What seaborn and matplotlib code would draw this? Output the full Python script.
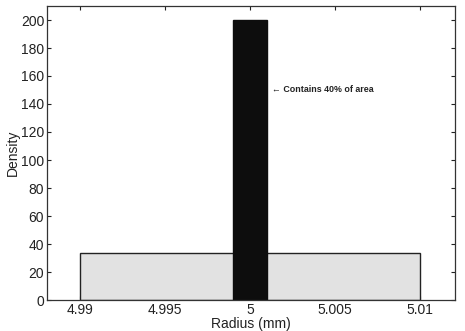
import matplotlib
matplotlib.use("Agg")
import matplotlib.pyplot as plt
import seaborn as sns
import pandas as pd

# Data
bin_edges_wide = [4.99, 5.01]
density_wide = [33.33]
bin_edges_narrow = [4.999, 5.001]
density_narrow = [200.0]
x_ticks = [4.99, 4.995, 5.0, 5.005, 5.01]
x_tick_labels = ["4.99", "4.995", "5", "5.005", "5.01"]
y_ticks = [0, 20, 40, 60, 80, 100, 120, 140, 160, 180, 200]
annotation_text = "\u2190 Contains 40% of area"

sns.set_theme(style="ticks")
plt.rcParams['font.family'] = ['Liberation Sans', 'DejaVu Sans']

fig = plt.figure(figsize=(4.65, 3.31), dpi=100)
ax = fig.add_axes([47/465, 31/331, (455-47)/465, (300-6)/331])

wide = pd.DataFrame({"x": [sum(bin_edges_wide)/2], "w": density_wide})
narrow = pd.DataFrame({"x": [sum(bin_edges_narrow)/2], "w": density_narrow})

sns.histplot(data=wide, x="x", weights="w", bins=bin_edges_wide, stat="count",
             color="#e2e2e2", alpha=1, edgecolor="#222222", linewidth=1.0, ax=ax)
sns.histplot(data=narrow, x="x", weights="w", bins=bin_edges_narrow, stat="count",
             color="#0d0d0d", alpha=1, edgecolor="#0d0d0d", linewidth=1.0, ax=ax)

ax.set_xlim(4.98806, 5.01206)
ax.set_ylim(0, 210)
ax.set_xticks(x_ticks)
ax.set_xticklabels(x_tick_labels)
ax.set_yticks(y_ticks)
ax.tick_params(direction="in", length=3, width=0.8, labelsize=10, colors="#222222",
               top=True, right=True, pad=2)
ax.set_xlabel("Radius (mm)", fontsize=10, labelpad=0, color="#222222")
ax.set_ylabel("Density", fontsize=10, labelpad=1, color="#222222")
for s in ax.spines.values():
    s.set_visible(True)
    s.set_linewidth(0.9)
    s.set_color("#333333")

ax.text(5.0013, 150, annotation_text, fontsize=6.4, fontweight="bold",
        va="center", ha="left", color="#222222")

fig.savefig("out.png", dpi=100)
